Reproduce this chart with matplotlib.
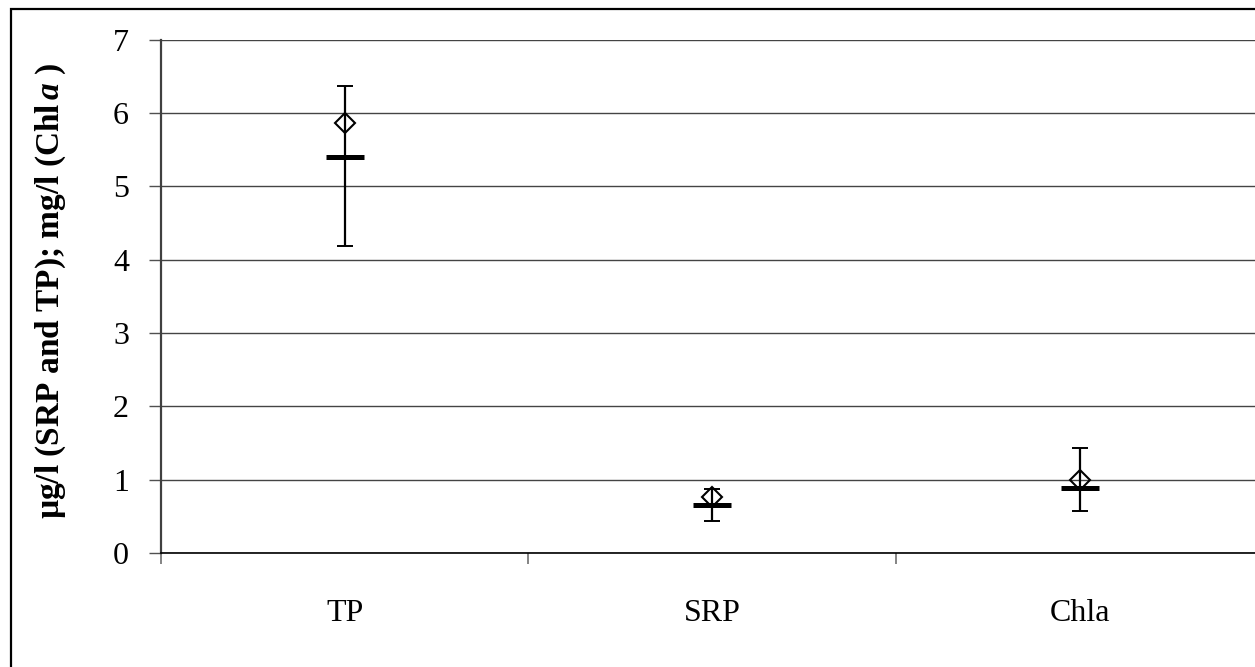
import numpy as np
import matplotlib
matplotlib.use("Agg")
import matplotlib.pyplot as plt
from matplotlib.patches import Rectangle

plt.rcParams['font.family'] = ['Liberation Serif', 'DejaVu Serif']
plt.rcParams['mathtext.fontset'] = 'custom'
plt.rcParams['mathtext.rm'] = 'Liberation Serif'
plt.rcParams['mathtext.it'] = 'Liberation Serif:italic'
plt.rcParams['mathtext.bf'] = 'Liberation Serif:bold'
plt.rcParams['mathtext.bfit'] = 'Liberation Serif:bold:italic'

categories = ['TP', 'SRP', 'Chla']
means = [5.86, 0.76, 1.00]
medians = [5.40, 0.66, 0.89]
upper = [6.36, 0.87, 1.43]
lower = [4.19, 0.44, 0.57]
yticks = [0, 1, 2, 3, 4, 5, 6, 7]

W, H = 1255, 667
fig = plt.figure(figsize=(W / 100, H / 100), dpi=100)
ax_left, ax_right, ax_top, ax_bot = 161, 1263.5, 39.5, 553
ax = fig.add_axes([ax_left / W, (H - ax_bot) / H, (ax_right - ax_left) / W, (ax_bot - ax_top) / H])

x = np.arange(1, len(categories) + 1)
med = np.array(medians)
yerr = [med - np.array(lower), np.array(upper) - med]

ax.errorbar(x, med, yerr=yerr, fmt='none', ecolor='black', elinewidth=1.6,
            capsize=5.5, capthick=1.4, zorder=3)
ax.plot(x, medians, linestyle='none', marker='_', markersize=28,
        markeredgewidth=3.6, color='black', zorder=4)
ax.plot(x, means, linestyle='none', marker='D', markersize=10,
        markerfacecolor='none', markeredgecolor='black', markeredgewidth=1.5, zorder=5)

ax.set_xlim(0.5, len(categories) + 0.5)
ax.set_ylim(0, 7)
ax.set_yticks(yticks)
ax.set_yticklabels([str(t) for t in yticks])
ax.set_xticks(x)
ax.set_xticklabels(categories)
ax.set_xticks(np.arange(0.5, len(categories) + 1, 1.0), minor=True)

ax.tick_params(axis='x', which='major', length=0, pad=33, labelsize=23)
ax.tick_params(axis='x', which='minor', length=8, width=1.2, color='#707070', direction='out')
ax.tick_params(axis='y', which='major', length=9, width=1.0, color='#505050',
               direction='out', pad=14, labelsize=23)

ax.grid(axis='y', color='#444444', linewidth=1.0, zorder=0)
ax.set_axisbelow(True)
for s in ['top', 'right']:
    ax.spines[s].set_visible(False)
ax.spines['left'].set_color('#404040')
ax.spines['left'].set_linewidth(1.6)
ax.spines['bottom'].set_color('black')
ax.spines['bottom'].set_linewidth(1.2)

ax.set_ylabel(r"µg/l (SRP and TP); mg/l (Chl$\,\mathbfit{a}$ )", fontsize=24,
              fontweight='bold')
ax.yaxis.set_label_coords(-(ax_left - 68) / (ax_right - ax_left), (ax_bot - 291) / (ax_bot - ax_top))

fig.patches.append(Rectangle((11 / W, -0.1), 1.2, (H - 8.5) / H + 0.1,
                             transform=fig.transFigure, fill=False,
                             edgecolor='black', linewidth=1.6, clip_on=False))

fig.savefig('out.png', dpi=100)
